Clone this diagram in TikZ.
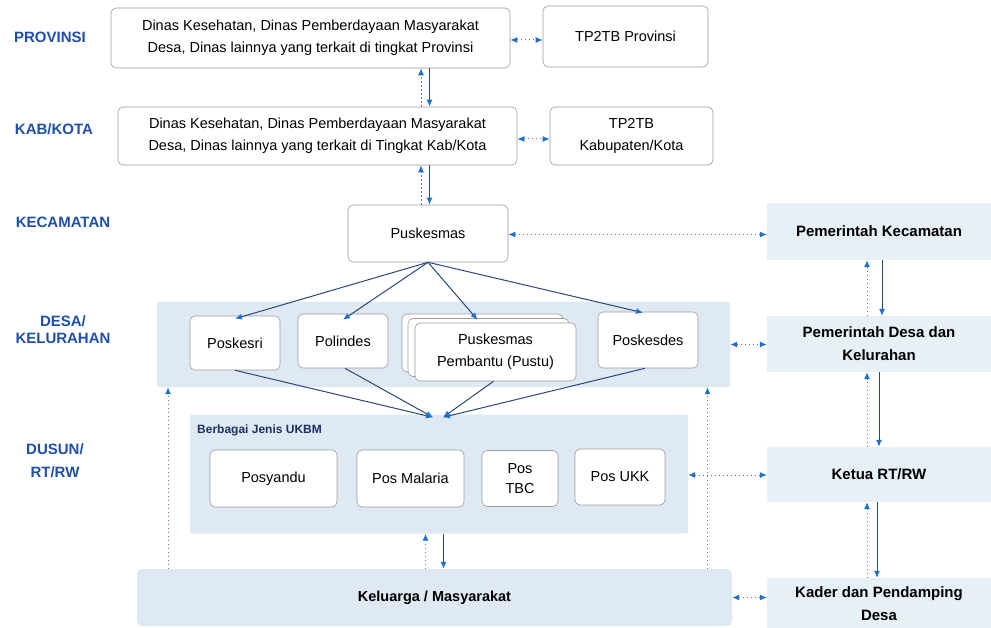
\documentclass[tikz,border=0pt]{standalone}
\usepackage{fontspec}
\setmainfont{Liberation Sans}
\usetikzlibrary{arrows.meta}
\definecolor{lvlblue}{HTML}{1F4FA8}
\definecolor{bandblue}{HTML}{DFE9F3}
\definecolor{paleblue}{HTML}{E7EFF7}
\definecolor{navy}{HTML}{27487C}
\definecolor{tipblue}{HTML}{1E6FD0}
\definecolor{dotgray}{HTML}{6E7885}
\definecolor{boxgray}{HTML}{9A9A9A}
\definecolor{ukbmtext}{HTML}{1C2F66}
\tikzset{
  wbox/.style={draw=boxgray, line width=0.6pt, fill=white, rounded corners=5pt, align=center, inner sep=0pt,
    font=\fontsize{14.5}{22}\selectfont},
  rbox/.style={fill=paleblue, align=center, inner sep=0pt, font=\bfseries\fontsize{15}{23}\selectfont},
  band/.style={fill=bandblue, inner sep=0pt, rounded corners=2pt},
  lvl/.style={text=lvlblue, align=center, font=\bfseries\fontsize{15}{17}\selectfont},
  solarr/.style={draw=navy, line width=1pt, -{Latex[length=7pt,width=6pt,color=tipblue]}},
  dotline/.style={draw=dotgray, line width=1pt, dash pattern=on 1.2pt off 2.8pt},
  dotup/.style={dotline, -{Latex[length=7pt,width=6pt,color=tipblue]}},
  dotboth/.style={dotline, {Latex[length=7pt,width=6pt,color=tipblue]}-{Latex[length=7pt,width=6pt,color=tipblue]}}
}
\begin{document}
\begin{tikzpicture}[x=1pt,y=-1pt]
\useasboundingbox (0,0) rectangle (991,628);
% level labels
\node[lvl] (lprov) at (50,37) {PROVINSI};
\node[lvl] (lkab) at (54,129) {KAB/KOTA};
\node[lvl] (lkec) at (63,222) {KECAMATAN};
\node[lvl] (ldesa) at (63,330) {DESA/\\KELURAHAN};
\node[lvl, font=\bfseries\fontsize{15}{23}\selectfont] (ldusun) at (55,461) {DUSUN/\\RT/RW};
% bands
\node[band, minimum width=573pt, minimum height=85pt] (desaband) at (443.5,344.5) {};
\node[band, minimum width=498pt, minimum height=119pt] (ukbm) at (439,474) {};
\node[band, rounded corners=5pt, minimum width=595pt, minimum height=57pt, font=\bfseries\fontsize{14.5}{22}\selectfont] (kel) at (434.5,597.5) {Keluarga / Masyarakat};
\node[anchor=west, text=ukbmtext, inner sep=0pt, font=\bfseries\fontsize{12}{14}\selectfont] (ukbmlbl) at (197,430) {Berbagai Jenis UKBM};
% top boxes
\node[wbox, minimum width=399pt, minimum height=60pt] (prov) at (310.5,38) {Dinas Kesehatan, Dinas Pemberdayaan Masyarakat\\Desa, Dinas lainnya yang terkait di tingkat Provinsi};
\node[wbox, minimum width=165pt, minimum height=61pt] (tpprov) at (625.5,36.5) {TP2TB Provinsi};
\node[wbox, minimum width=399pt, minimum height=58pt] (kab) at (317.5,136) {Dinas Kesehatan, Dinas Pemberdayaan Masyarakat\\Desa, Dinas lainnya yang terkait di Tingkat Kab/Kota};
\node[wbox, minimum width=163pt, minimum height=58pt] (tpkab) at (631.5,136) {TP2TB\\Kabupaten/Kota};
\node[wbox, minimum width=160pt, minimum height=57pt] (pusk) at (428,233.5) {Puskesmas};
% desa level boxes
\node[wbox, minimum width=90pt, minimum height=54pt] (poskesri) at (235,343) {Poskesri};
\node[wbox, minimum width=90pt, minimum height=54pt] (polindes) at (343,341) {Polindes};
\node[wbox, minimum width=161pt, minimum height=58pt] (pustuA) at (482.5,343) {};
\node[wbox, minimum width=161pt, minimum height=58pt] (pustuB) at (488.5,347.5) {};
\node[wbox, minimum width=161pt, minimum height=58pt] (pustu) at (495.5,352) {Puskesmas\\Pembantu (Pustu)};
\node[wbox, minimum width=100pt, minimum height=56pt] (poskesdes) at (648,340) {Poskesdes};
% ukbm boxes
\node[wbox, minimum width=127pt, minimum height=57pt] (posyandu) at (273.5,478.5) {Posyandu};
\node[wbox, minimum width=107pt, minimum height=57pt] (posmal) at (410.5,478.5) {Pos Malaria};
\node[wbox, minimum width=76pt, minimum height=56pt, font=\fontsize{14.5}{20}\selectfont] (postbc) at (520,478.5) {Pos\\TBC};
\node[wbox, minimum width=90pt, minimum height=56pt] (posukk) at (620,477) {Pos UKK};
% right column
\node[rbox, minimum width=224pt, minimum height=57pt] (pemkec) at (879,231.5) {Pemerintah Kecamatan};
\node[rbox, minimum width=224pt, minimum height=56pt] (pemdesa) at (879,344) {Pemerintah Desa dan\\Kelurahan};
\node[rbox, minimum width=224pt, minimum height=55pt] (ketua) at (879,474.5) {Ketua RT/RW};
\node[rbox, minimum width=224pt, minimum height=52pt] (kader) at (879,604) {Kader dan Pendamping\\Desa};
% vertical pairs
\draw[dotup] ([xshift=103.5pt]kab.north) -- ([xshift=103.5pt]kab.north |- prov.south);
\draw[solarr] ([xshift=119pt]prov.south) -- ([xshift=119pt]prov.south |- kab.north);
\draw[dotup] ([xshift=-7pt]pusk.north) -- ([xshift=-7pt]pusk.north |- kab.south);
\draw[solarr] ([xshift=1.5pt]pusk.north |- kab.south) -- ([xshift=1.5pt]pusk.north);
\draw[dotup] ([xshift=-12pt]pemdesa.north) -- ([xshift=-12pt]pemdesa.north |- pemkec.south);
\draw[solarr] ([xshift=3pt]pemkec.south) -- ([xshift=3pt]pemkec.south |- pemdesa.north);
\draw[dotup] ([xshift=-12pt]ketua.north) -- ([xshift=-12pt]ketua.north |- pemdesa.south);
\draw[solarr] ([xshift=0pt]pemdesa.south) -- ([xshift=0pt]pemdesa.south |- ketua.north);
\draw[dotup] ([xshift=-12pt]kader.north) -- ([xshift=-12pt]kader.north |- ketua.south);
\draw[solarr] ([xshift=-2pt]ketua.south) -- ([xshift=-2pt]ketua.south |- kader.north);
\draw[dotup] ([xshift=-9pt]kel.north) -- ([xshift=-9pt]kel.north |- ukbm.south);
\draw[solarr] ([xshift=4.5pt]ukbm.south) -- ([xshift=4.5pt]ukbm.south |- kel.north);
\draw[dotup] ([xshift=-266.5pt]kel.north) -- ([xshift=-266.5pt]kel.north |- desaband.south);
\draw[dotup] ([xshift=273pt]kel.north) -- ([xshift=273pt]kel.north |- desaband.south);
% horizontal dotted
\draw[dotboth] ([yshift=-2pt]prov.east) -- ([yshift=-2pt]prov.east -| tpprov.west);
\draw[dotboth] ([yshift=-3pt]kab.east) -- ([yshift=-3pt]kab.east -| tpkab.west);
\draw[dotboth] ([yshift=-1pt]pusk.east) -- ([yshift=-1pt]pusk.east -| pemkec.west);
\draw[dotboth] (desaband.east) -- (desaband.east -| pemdesa.west);
\draw[dotboth] ([yshift=-1pt]ukbm.east) -- ([yshift=-1pt]ukbm.east -| ketua.west);
\draw[dotboth] (kel.east) -- (kel.east -| kader.west);
% puskesmas to desa boxes
\draw[solarr] (pusk.south) -- ([yshift=-3pt]poskesri.north);
\draw[solarr] (pusk.south) -- ([yshift=-6pt]polindes.north);
\draw[solarr] (pusk.south) -- ([xshift=-5pt,yshift=-6pt]pustuA.north);
\draw[solarr] (pusk.south) -- ([xshift=-5pt,yshift=-1pt]poskesdes.north);
% desa boxes to ukbm
\draw[solarr] (poskesri.south) -- ([xshift=-6pt,yshift=-3pt]ukbm.north);
\draw[solarr] ([xshift=2pt]polindes.south) -- ([xshift=-6pt,yshift=-3pt]ukbm.north);
\draw[solarr] ([xshift=-2pt]pustu.south) -- ([xshift=4pt,yshift=-3pt]ukbm.north);
\draw[solarr] ([xshift=-3pt]poskesdes.south) -- ([xshift=4pt,yshift=-3pt]ukbm.north);
\end{tikzpicture}
\end{document}
